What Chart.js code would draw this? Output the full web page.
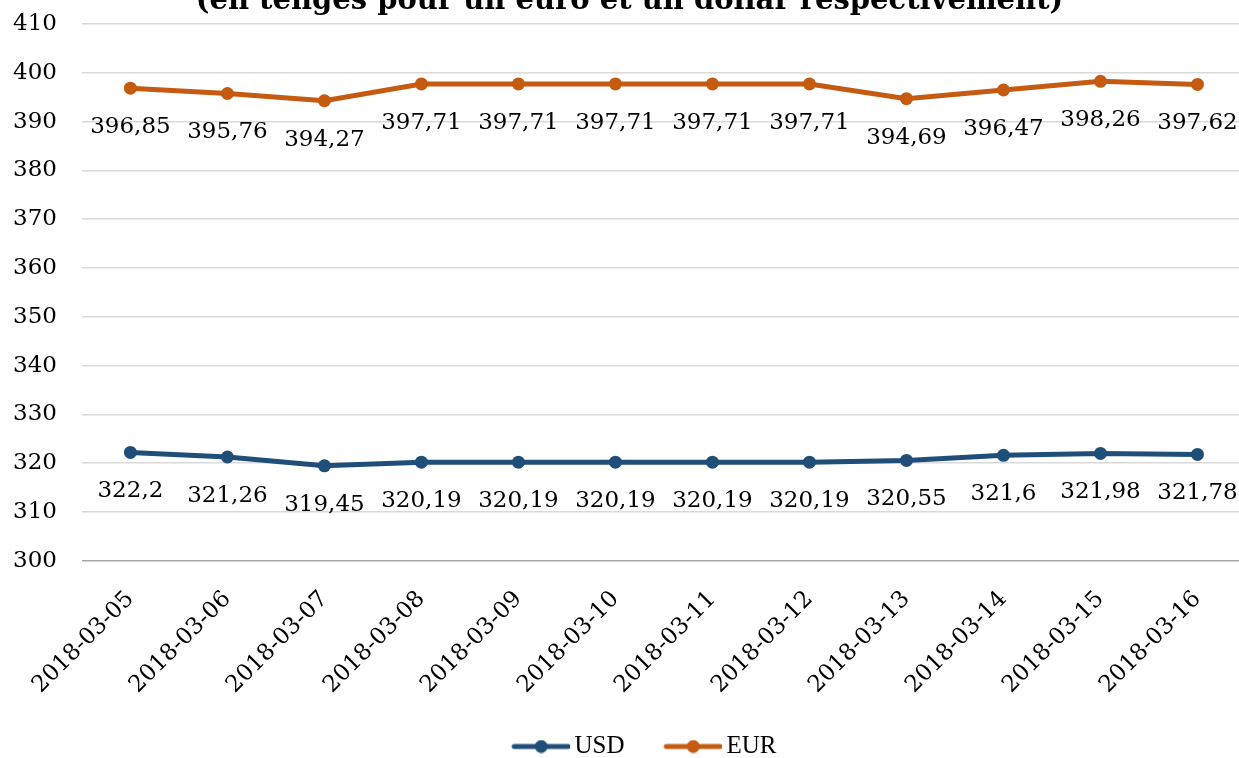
<!DOCTYPE html>
<html>
<head>
<meta charset="utf-8">
<script src="https://cdn.jsdelivr.net/npm/chart.js@4/dist/chart.umd.min.js"></script>
<style>
  html, body { margin: 0; padding: 0; background: #fff; overflow: hidden; }
  #wrap { position: absolute; left: 0; top: -18px; }
</style>
</head>
<body>
<div id="wrap"><canvas id="out" width="1246" height="789"></canvas></div>
<script>
const dates = ["2018-03-05", "2018-03-06", "2018-03-07", "2018-03-08", "2018-03-09", "2018-03-10",
	"2018-03-11", "2018-03-12", "2018-03-13", "2018-03-14", "2018-03-15", "2018-03-16"];
const usdValues = [322.2, 321.26, 319.45, 320.19, 320.19, 320.19, 320.19, 320.19, 320.55, 321.6, 321.98, 321.78];
const eurValues = [396.85, 395.76, 394.27, 397.71, 397.71, 397.71, 397.71, 397.71, 394.69, 396.47, 398.26, 397.62];
const titleText = "(en tenges pour un euro et un dollar respectivement)";

const blue = "#1f4e79";
const orange = "#c55a11";
const serif = "'DejaVu Serif', serif";

// line + dot marker for the legend (wider than the box so the text sits close)
function legendMarker(color) {
	const c = document.createElement("canvas");
	c.width = 96;
	c.height = 14;
	const g = c.getContext("2d");
	g.strokeStyle = color;
	g.lineWidth = 5;
	g.lineCap = "round";
	g.beginPath();
	g.moveTo(40, 7);
	g.lineTo(94, 7);
	g.stroke();
	g.fillStyle = color;
	g.beginPath();
	g.arc(67, 7, 6.5, 0, Math.PI * 2);
	g.fill();
	return c;
}

// value labels under each point
const valueLabels = {
	id: "valueLabels",
	afterDatasetsDraw(chart) {
		const ctx = chart.ctx;
		ctx.save();
		ctx.font = "23px " + serif;
		ctx.fillStyle = "#000";
		ctx.textAlign = "center";
		ctx.textBaseline = "alphabetic";
		chart.data.datasets.forEach((ds, i) => {
			const meta = chart.getDatasetMeta(i);
			meta.data.forEach((pt, j) => {
				const txt = String(ds.data[j]).replace(".", ",");
				ctx.fillText(txt, pt.x, pt.y + 45);
			});
		});
		ctx.restore();
	}
};

const chartConfig = {
	type: "line",
	data: {
		labels: dates,
		datasets: [
			{
				label: "USD",
				data: usdValues,
				borderColor: blue,
				backgroundColor: blue,
				borderWidth: 5,
				pointRadius: 6.5,
				pointBackgroundColor: blue,
				pointBorderWidth: 0,
				tension: 0
			}, {
				label: "EUR",
				data: eurValues,
				borderColor: orange,
				backgroundColor: orange,
				borderWidth: 5,
				pointRadius: 6.5,
				pointBackgroundColor: orange,
				pointBorderWidth: 0,
				tension: 0
			}
		]
	},
	options: {
		responsive: false,
		animation: false,
		layout: { autoPadding: false, padding: { top: 0, left: 13, right: 0, bottom: 2 } },
		plugins: {
			title: {
				display: true,
				text: titleText,
				font: { family: serif, size: 29, weight: "bold", lineHeight: 1 },
				color: "#000",
				padding: { top: 5, bottom: 8 }
			},
			legend: {
				position: "bottom",
				labels: {
					usePointStyle: true,
					pointStyleWidth: 79.5,
					padding: 10,
					color: "#000",
					font: { family: "'Liberation Serif', serif", size: 25 },
					generateLabels(chart) {
						return chart.data.datasets.map((ds, i) => ({
							text: ds.label,
							pointStyle: legendMarker(ds.borderColor),
							fillStyle: ds.borderColor,
							strokeStyle: ds.borderColor,
							lineWidth: 0,
							datasetIndex: i,
							hidden: false
						}));
					}
				}
			},
			tooltip: { enabled: false }
		},
		scales: {
			x: {
				offset: true,
				grid: { display: false, drawTicks: false },
				border: { display: false },
				ticks: {
					color: "#000",
					font: { family: serif, size: 23 },
					minRotation: 45,
					maxRotation: 45,
					padding: 25
				},
				afterFit(scale) {
					scale.paddingLeft = 0;
					scale.paddingRight = 0;
				}
			},
			y: {
				min: 300,
				max: 410,
				border: { display: false },
				grid: {
					drawTicks: false,
					lineWidth: 1.5,
					color: (c) => c.tick && c.tick.value === 300 ? "#a6a6a6" : "#d9d9d9"
				},
				ticks: {
					stepSize: 10,
					color: "#000",
					padding: 25,
					font: { family: serif, size: 23 }
				},
				afterFit(scale) {
					// padding gets counted twice in the axis width
					scale.width -= scale.options.ticks.padding;
				}
			}
		}
	},
	plugins: [valueLabels]
};

window.chart = new Chart(document.getElementById("out").getContext("2d"), chartConfig);
</script>
</body>
</html>
